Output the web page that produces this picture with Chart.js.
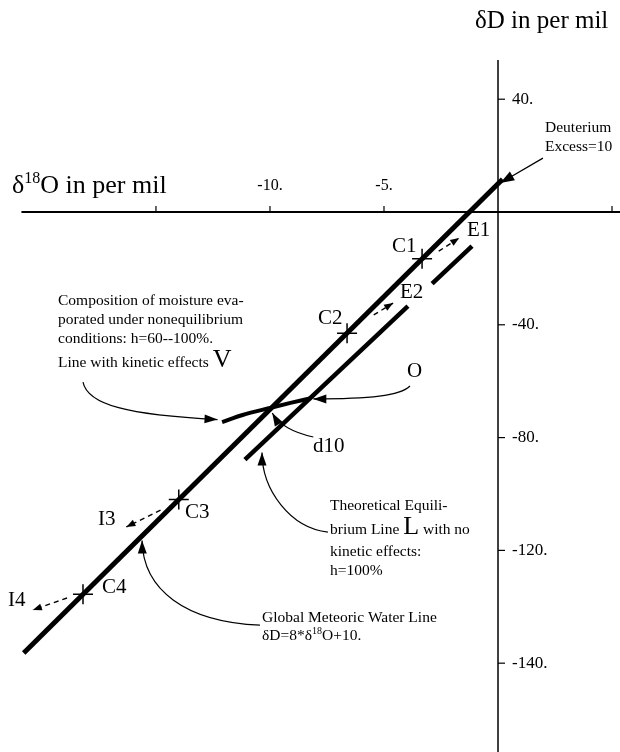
<!DOCTYPE html>
<html lang="en">
<head>
<meta charset="UTF-8">
<title>Deuterium vs oxygen-18</title>
<script src="https://cdn.jsdelivr.net/npm/chart.js"></script>
<style>
  html, body { margin: 0; padding: 0; background: #fff; overflow: hidden; }
  canvas { display: block; }
</style>
</head>
<body>
<canvas id="chart" width="620" height="752"></canvas>
<script>
// axis ticks (the figure labels its lowest tick -140.)
const xTicks = [-15, -10, -5, 5];
const xTickLabels = ['', '-10.', '-5.', ''];
const yTicks = [40, -40, -80, -120, -160];
const yTickLabels = ['40.', '-40.', '-80.', '-120.', '-140.'];

// global meteoric water line, dD = 8*d18O + 10
const gmwlX = [-20.8, 0.2];
const gmwlY = [-156.4, 11.6];

// theoretical equilibrium line L, drawn in two pieces
const lineL1X = [-1.14, -2.89];
const lineL1Y = [-12.1, -25.4];
const lineL2X = [-3.95, -11.1];
const lineL2Y = [-33.4, -87.8];

// line with kinetic effects V
const lineVX = [-12.1, -11.2, -10.0, -9.1, -8.2];
const lineVY = [-74.5, -72.0, -69.5, -67.7, -66.0];

// points C1..C4 on the meteoric line
const cNames = ['C1', 'C2', 'C3', 'C4'];
const cX = [-3.33, -6.62, -14.0, -18.2];
const cY = [-16.6, -43.0, -102.0, -135.6];

const serif = "'Liberation Serif', 'DejaVu Serif', serif";
const noteSize = 15.5;

function pts(xs, ys) {
    return xs.map((x, i) => ({ x: x, y: ys[i] }));
}

function arrowHead(ctx, tx, ty, fx, fy, len, half) {
    const a = Math.atan2(ty - fy, tx - fx);
    const c = Math.cos(a), s = Math.sin(a);
    ctx.beginPath();
    ctx.moveTo(tx, ty);
    ctx.lineTo(tx - len * c + half * s, ty - len * s - half * c);
    ctx.lineTo(tx - len * c - half * s, ty - len * s + half * c);
    ctx.closePath();
    ctx.fill();
}

// parts: [text, fontSize, raise]
function richText(ctx, x, y, parts) {
    let cx = x;
    parts.forEach(p => {
        ctx.font = p[1] + 'px ' + serif;
        ctx.fillText(p[0], cx, y - (p[2] || 0));
        cx += ctx.measureText(p[0]).width;
    });
}

const axesPlugin = {
    id: 'crossAxes',
    beforeDatasetsDraw(chart) {
        const ctx = chart.ctx;
        const sx = chart.scales.x, sy = chart.scales.y;
        const x0 = sx.getPixelForValue(0), y0 = sy.getPixelForValue(0);
        ctx.save();
        ctx.strokeStyle = '#000';
        ctx.fillStyle = '#000';

        // x axis
        ctx.lineWidth = 2;
        ctx.beginPath();
        ctx.moveTo(sx.getPixelForValue(-20.9), y0);
        ctx.lineTo(sx.right, y0);
        ctx.stroke();
        ctx.lineWidth = 1.2;
        ctx.font = '16px ' + serif;
        ctx.textAlign = 'center';
        ctx.textBaseline = 'alphabetic';
        xTicks.forEach((v, i) => {
            const px = sx.getPixelForValue(v);
            ctx.beginPath();
            ctx.moveTo(px, y0);
            ctx.lineTo(px, y0 - 6);
            ctx.stroke();
            if (xTickLabels[i]) ctx.fillText(xTickLabels[i], px, y0 - 22);
        });

        // y axis
        ctx.lineWidth = 1.5;
        ctx.beginPath();
        ctx.moveTo(x0, sy.getPixelForValue(53.9));
        ctx.lineTo(x0, sy.bottom);
        ctx.stroke();
        ctx.lineWidth = 1.2;
        ctx.font = '17px ' + serif;
        ctx.textAlign = 'left';
        ctx.textBaseline = 'middle';
        yTicks.forEach((v, i) => {
            const py = sy.getPixelForValue(v);
            ctx.beginPath();
            ctx.moveTo(x0, py);
            ctx.lineTo(x0 + 7, py);
            ctx.stroke();
            ctx.fillText(yTickLabels[i], x0 + 14, py);
        });

        // axis titles
        ctx.textBaseline = 'alphabetic';
        richText(ctx, 475, 28, [['\u03b4D in per mil', 25]]);
        richText(ctx, 12, 193, [['\u03b4', 26], ['18', 16, 10], ['O in per mil', 26]]);
        ctx.restore();
    }
};

const notesPlugin = {
    id: 'notes',
    afterDatasetsDraw(chart) {
        const ctx = chart.ctx;
        const sx = chart.scales.x, sy = chart.scales.y;
        const P = (x, y) => [sx.getPixelForValue(x), sy.getPixelForValue(y)];
        ctx.save();
        ctx.strokeStyle = '#000';
        ctx.fillStyle = '#000';

        // curved leaders with filled heads: start, ctrl1, ctrl2, tip (data units)
        const curves = [
            [[-18.2, -60.3], [-18.0, -68.4], [-16.2, -72.0], [-12.3, -73.6]],
            [[-3.86, -61.7], [-4.3, -65.2], [-5.6, -66.3], [-8.1, -66.3]],
            [[-8.1, -79.8], [-8.9, -78.4], [-9.6, -75.5], [-9.9, -71.3]],
            [[-7.46, -113.5], [-9.1, -112.1], [-10.35, -98.6], [-10.35, -85.3]],
            [[-10.44, -146.5], [-13.7, -145.4], [-15.57, -134.0], [-15.61, -116.5]]
        ];
        ctx.lineWidth = 1.2;
        curves.forEach(c => {
            const p = c.map(q => P(q[0], q[1]));
            ctx.beginPath();
            ctx.moveTo(p[0][0], p[0][1]);
            ctx.bezierCurveTo(p[1][0], p[1][1], p[2][0], p[2][1], p[3][0], p[3][1]);
            ctx.stroke();
            arrowHead(ctx, p[3][0], p[3][1], p[2][0], p[2][1], 13, 4.5);
        });

        // deuterium excess pointer
        const dt = P(1.97, 19.1), dh = P(0.1, 10.3);
        ctx.beginPath();
        ctx.moveTo(dt[0], dt[1]);
        ctx.lineTo(dh[0], dh[1]);
        ctx.stroke();
        arrowHead(ctx, dh[0], dh[1], dt[0], dt[1], 14, 5);

        // dashed evaporation / condensation arrows: tail, tip
        const dashed = [
            [[-2.6, -13.9], [-1.7, -9.2]],
            [[-5.45, -36.5], [-4.6, -32.3]],
            [[-14.8, -105.7], [-16.3, -111.7]],
            [[-18.9, -136.9], [-20.4, -141.1]]
        ];
        dashed.forEach(d => {
            const a = P(d[0][0], d[0][1]), b = P(d[1][0], d[1][1]);
            ctx.lineWidth = 1.4;
            ctx.setLineDash([5, 4]);
            ctx.beginPath();
            ctx.moveTo(a[0], a[1]);
            ctx.lineTo(b[0], b[1]);
            ctx.stroke();
            ctx.setLineDash([]);
            arrowHead(ctx, b[0], b[1], a[0], a[1], 9, 3.5);
        });

        // point and line labels
        const tags = [
            ['E1', -1.36, -6.4], ['C1', -4.65, -12.1], ['E2', -4.3, -28.4],
            ['C2', -7.89, -37.6], ['C3', -13.73, -106.7], ['I3', -17.54, -108.9],
            ['C4', -17.37, -133.3], ['I4', -21.49, -137.9], ['O', -3.99, -56.4],
            ['d10', -8.11, -83.3]
        ];
        ctx.font = '21px ' + serif;
        ctx.textAlign = 'left';
        ctx.textBaseline = 'middle';
        tags.forEach(t => {
            const p = P(t[1], t[2]);
            ctx.fillText(t[0], p[0], p[1]);
        });

        // text blocks
        const n = noteSize;
        ctx.textBaseline = 'alphabetic';
        richText(ctx, 545, 132, [['Deuterium', n]]);
        richText(ctx, 545, 151, [['Excess=10', n]]);

        richText(ctx, 58, 305, [['Composition of moisture eva-', n]]);
        richText(ctx, 58, 324, [['porated under nonequilibrium', n]]);
        richText(ctx, 58, 343, [['conditions: h=60--100%.', n]]);
        richText(ctx, 58, 367, [['Line with kinetic effects ', n], ['V', 26]]);

        richText(ctx, 330, 510, [['Theoretical Equili-', n]]);
        richText(ctx, 330, 534, [['brium Line ', n], ['L', 26], [' with no', n]]);
        richText(ctx, 330, 556, [['kinetic effects:', n]]);
        richText(ctx, 330, 575, [['h=100%', n]]);

        richText(ctx, 262, 622, [['Global Meteoric Water Line', n]]);
        richText(ctx, 262, 640, [['\u03b4D=8*\u03b4', n], ['18', 10, 6], ['O+10.', n]]);
        ctx.restore();
    }
};

const ctx = document.getElementById('chart').getContext('2d');
const line = { showLine: true, borderColor: '#000', pointRadius: 0, fill: false };

new Chart(ctx, {
    type: 'scatter',
    data: {
        datasets: [
            Object.assign({ label: 'Global Meteoric Water Line', data: pts(gmwlX, gmwlY), borderWidth: 5 }, line),
            Object.assign({ label: 'Equilibrium line L', data: pts(lineL1X, lineL1Y), borderWidth: 4.5 }, line),
            Object.assign({ label: 'Equilibrium line L ', data: pts(lineL2X, lineL2Y), borderWidth: 4.5 }, line),
            Object.assign({ label: 'Kinetic line V', data: pts(lineVX, lineVY), borderWidth: 4,
                cubicInterpolationMode: 'monotone' }, line),
            {
                label: 'C points', data: pts(cX, cY), showLine: false,
                pointStyle: 'cross', pointRadius: 10, borderWidth: 1.5,
                borderColor: '#000', backgroundColor: '#000'
            }
        ]
    },
    options: {
        responsive: false,
        animation: false,
        layout: { padding: 0, autoPadding: false },
        plugins: { legend: { display: false }, tooltip: { enabled: false } },
        scales: {
            x: { type: 'linear', min: -21.84, max: 5.35, display: false },
            y: { type: 'linear', min: -191.5, max: 75.18, display: false }
        }
    },
    plugins: [axesPlugin, notesPlugin]
});
</script>
</body>
</html>
